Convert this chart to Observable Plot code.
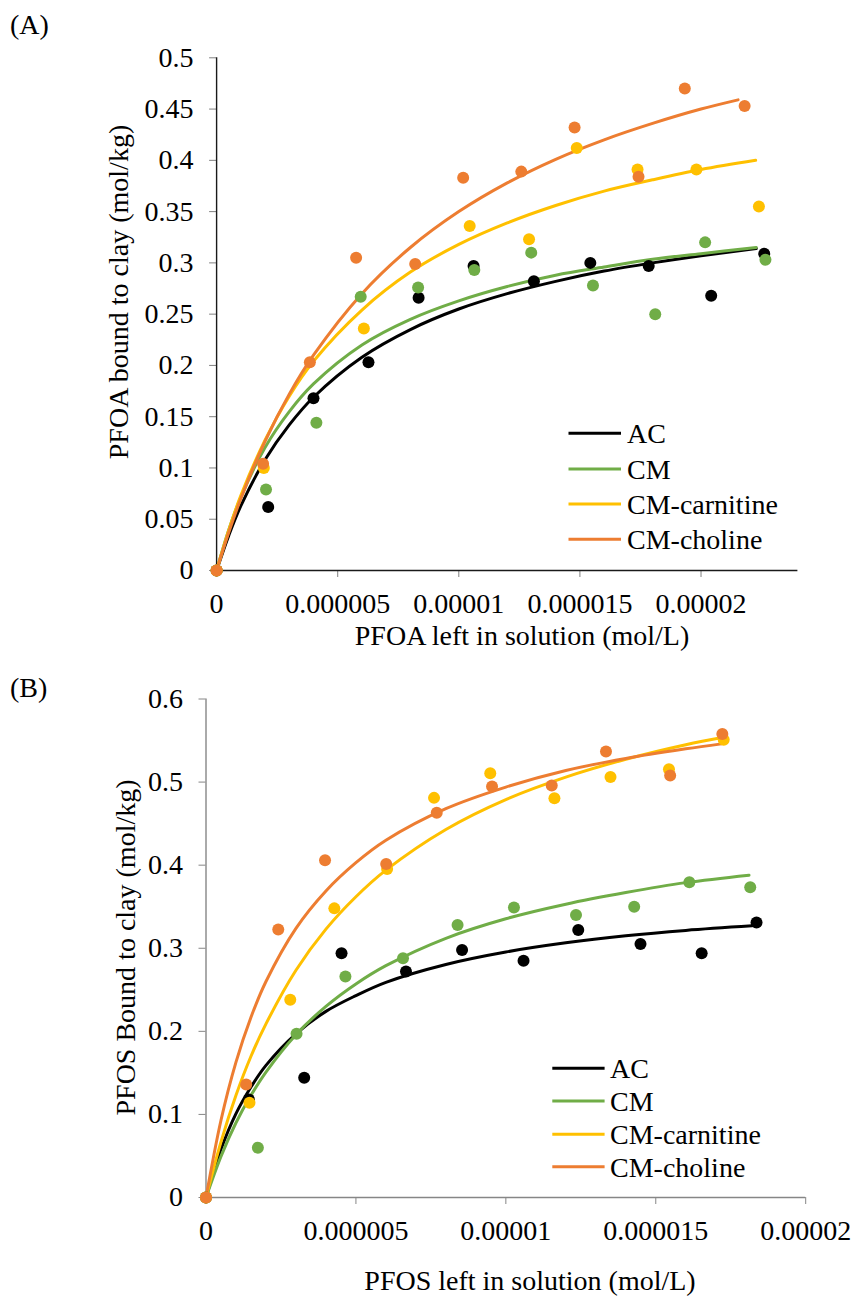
<!DOCTYPE html>
<html><head><meta charset="utf-8">
<script src="https://cdn.jsdelivr.net/npm/d3@7"></script>
<script src="https://cdn.jsdelivr.net/npm/@observablehq/plot@0.6"></script>
<style>
html,body{margin:0;padding:0;background:#fff;}
#wrap{position:relative;width:851px;height:1296px;font-family:"Liberation Serif","Times New Roman",serif;}
#wrap svg{position:absolute;left:0;}
</style></head><body><div id="wrap"></div>
<script>
// ---------- series ----------
const seriesNames = ["AC", "CM", "CM-carnitine", "CM-choline"];
const seriesColors = ["#000000", "#70AD47", "#FFC000", "#ED7D31"];

// ---------- Panel A (PFOA) ----------
const aTicksX = [0, 0.5e-5, 1e-5, 1.5e-5, 2e-5];
const aTickLabelsX = ["0", "0.000005", "0.00001", "0.000015", "0.00002"];
const aTicksY = [0, 0.05, 0.1, 0.15, 0.2, 0.25, 0.3, 0.35, 0.4, 0.45, 0.5];
const aTickLabelsY = ["0", "0.05", "0.1", "0.15", "0.2", "0.25", "0.3", "0.35", "0.4", "0.45", "0.5"];

const aAcX = [0, 0.213e-5, 0.400e-5, 0.627e-5, 0.834e-5, 1.061e-5, 1.310e-5, 1.543e-5, 1.784e-5, 2.042e-5, 2.261e-5];
const aAcY = [0, 0.062, 0.168, 0.203, 0.266, 0.297, 0.282, 0.300, 0.297, 0.268, 0.309];
const aCmX = [0, 0.204e-5, 0.412e-5, 0.595e-5, 0.832e-5, 1.064e-5, 1.299e-5, 1.554e-5, 1.811e-5, 2.017e-5, 2.266e-5];
const aCmY = [0, 0.079, 0.144, 0.267, 0.276, 0.293, 0.310, 0.278, 0.250, 0.320, 0.303];
const aCarX = [0, 0.195e-5, 0.608e-5, 1.045e-5, 1.290e-5, 1.487e-5, 1.738e-5, 1.981e-5, 2.239e-5];
const aCarY = [0, 0.100, 0.236, 0.336, 0.323, 0.412, 0.391, 0.391, 0.355];
const aChoX = [0, 0.192e-5, 0.385e-5, 0.576e-5, 0.820e-5, 1.018e-5, 1.258e-5, 1.478e-5, 1.742e-5, 1.933e-5, 2.180e-5];
const aChoY = [0, 0.104, 0.203, 0.305, 0.299, 0.383, 0.389, 0.432, 0.384, 0.470, 0.453];

// fitted curves
const aAcFitX = [0, 0.05e-5, 0.1e-5, 0.2e-5, 0.3e-5, 0.4e-5, 0.6e-5, 0.8e-5, 1.0e-5, 1.2e-5, 1.4e-5, 1.6e-5, 1.8e-5, 2.0e-5, 2.228e-5];
const aAcFitY = [0, 0.034, 0.063, 0.108, 0.142, 0.169, 0.208, 0.235, 0.255, 0.270, 0.282, 0.292, 0.300, 0.307, 0.314];
const aCmFitX = [0, 0.05e-5, 0.1e-5, 0.2e-5, 0.3e-5, 0.4e-5, 0.6e-5, 0.8e-5, 1.0e-5, 1.2e-5, 1.4e-5, 1.6e-5, 1.8e-5, 2.0e-5, 2.228e-5];
const aCmFitY = [0, 0.0395, 0.0714, 0.120, 0.155, 0.182, 0.220, 0.245, 0.263, 0.277, 0.288, 0.296, 0.3035, 0.309, 0.315];
const aCarFitX = [0, 0.05e-5, 0.1e-5, 0.2e-5, 0.3e-5, 0.4e-5, 0.6e-5, 0.8e-5, 1.0e-5, 1.2e-5, 1.4e-5, 1.6e-5, 1.8e-5, 2.0e-5, 2.2255e-5];
const aCarFitY = [0, 0.039, 0.073, 0.127, 0.170, 0.204, 0.254, 0.291, 0.318, 0.339, 0.356, 0.370, 0.381, 0.391, 0.400];
const aChoFitX = [0, 0.05e-5, 0.1e-5, 0.2e-5, 0.3e-5, 0.4e-5, 0.6e-5, 0.8e-5, 1.0e-5, 1.2e-5, 1.4e-5, 1.6e-5, 1.8e-5, 2.0e-5, 2.153e-5];
const aChoFitY = [0, 0.037, 0.070, 0.126, 0.172, 0.210, 0.270, 0.315, 0.350, 0.378, 0.401, 0.420, 0.436, 0.450, 0.459];

// ---------- Panel B (PFOS) ----------
const bTicksX = [0, 0.5e-5, 1e-5, 1.5e-5, 2e-5];
const bTickLabelsX = ["0", "0.000005", "0.00001", "0.000015", "0.00002"];
const bTicksY = [0, 0.1, 0.2, 0.3, 0.4, 0.5, 0.6];
const bTickLabelsY = ["0", "0.1", "0.2", "0.3", "0.4", "0.5", "0.6"];

const bAcX = [0, 0.143e-5, 0.3275e-5, 0.452e-5, 0.667e-5, 0.854e-5, 1.059e-5, 1.2415e-5, 1.449e-5, 1.653e-5, 1.836e-5];
const bAcY = [0, 0.118, 0.144, 0.294, 0.272, 0.298, 0.285, 0.322, 0.305, 0.294, 0.331];
const bCmX = [0, 0.173e-5, 0.302e-5, 0.465e-5, 0.657e-5, 0.839e-5, 1.027e-5, 1.234e-5, 1.428e-5, 1.612e-5, 1.815e-5];
const bCmY = [0, 0.060, 0.197, 0.266, 0.288, 0.328, 0.349, 0.340, 0.350, 0.3795, 0.3735];
const bCarX = [0, 0.145e-5, 0.281e-5, 0.428e-5, 0.604e-5, 0.7605e-5, 0.948e-5, 1.162e-5, 1.349e-5, 1.544e-5, 1.7265e-5];
const bCarY = [0, 0.114, 0.238, 0.348, 0.3955, 0.481, 0.5105, 0.4805, 0.506, 0.5155, 0.551];
const bChoX = [0, 0.134e-5, 0.241e-5, 0.397e-5, 0.601e-5, 0.7695e-5, 0.954e-5, 1.153e-5, 1.334e-5, 1.548e-5, 1.722e-5];
const bChoY = [0, 0.136, 0.3225, 0.406, 0.4015, 0.463, 0.4946, 0.4958, 0.5367, 0.508, 0.558];

const bAcFitX = [0, 0.05e-5, 0.1e-5, 0.15e-5, 0.2e-5, 0.3e-5, 0.4e-5, 0.5e-5, 0.6e-5, 0.8e-5, 1.0e-5, 1.2e-5, 1.4e-5, 1.6e-5, 1.821e-5];
const bAcFitY = [0, 0.058, 0.101, 0.133, 0.159, 0.197, 0.224, 0.243, 0.259, 0.2805, 0.2955, 0.3065, 0.315, 0.3215, 0.327];
const bCmFitX = [0, 0.05e-5, 0.1e-5, 0.15e-5, 0.2e-5, 0.3e-5, 0.4e-5, 0.5e-5, 0.6e-5, 0.8e-5, 1.0e-5, 1.2e-5, 1.4e-5, 1.6e-5, 1.811e-5];
const bCmFitY = [0, 0.0495, 0.090, 0.123, 0.151, 0.196, 0.230, 0.257, 0.279, 0.312, 0.3355, 0.353, 0.367, 0.379, 0.388];
const bCarFitX = [0, 0.05e-5, 0.1e-5, 0.15e-5, 0.2e-5, 0.3e-5, 0.4e-5, 0.5e-5, 0.6e-5, 0.8e-5, 1.0e-5, 1.2e-5, 1.4e-5, 1.6e-5, 1.7265e-5];
const bCarFitY = [0, 0.067, 0.123, 0.170, 0.209, 0.2735, 0.323, 0.362, 0.394, 0.443, 0.479, 0.506, 0.5275, 0.545, 0.554];
const bChoFitX = [0, 0.05e-5, 0.1e-5, 0.15e-5, 0.2e-5, 0.3e-5, 0.4e-5, 0.5e-5, 0.6e-5, 0.8e-5, 1.0e-5, 1.2e-5, 1.4e-5, 1.6e-5, 1.719e-5];
const bChoFitY = [0, 0.093, 0.163, 0.217, 0.260, 0.324, 0.369, 0.403, 0.430, 0.468, 0.494, 0.514, 0.5285, 0.540, 0.546];

// ---------- helpers ----------
const zip = (xs, ys) => xs.map((x, i) => ({x, y: ys[i]}));
const FONT = '"Liberation Serif", "Times New Roman", serif';

function panel(cfg) {
  const marks = [
    Plot.axisX(cfg.xTicks, {tickSize: 7, tickPadding: 16, stroke: cfg.tickColor, fill: "#000",
      tickFormat: d => cfg.xLabels[cfg.xTicks.indexOf(d)], label: null}),
    Plot.axisY(cfg.yTicks, {tickSize: 7, tickPadding: 16, stroke: cfg.tickColor, fill: "#000",
      tickFormat: d => cfg.yLabels[cfg.yTicks.indexOf(d)], label: null}),
    Plot.ruleY([0], {stroke: cfg.axisColor, strokeWidth: 1.4}),
    Plot.ruleX([0], {stroke: cfg.axisColor, strokeWidth: 1.4})
  ];
  cfg.fits.forEach((f, i) => marks.push(
    Plot.line(zip(f[0], f[1]), {x: "x", y: "y", stroke: seriesColors[i], strokeWidth: 3, curve: "catmull-rom"})));
  cfg.pts.forEach((p, i) => marks.push(
    Plot.dot(zip(p[0], p[1]), {x: "x", y: "y", r: 6, fill: seriesColors[i], stroke: "none"})));
  const svg = Plot.plot({
    width: 851, height: cfg.height,
    marginLeft: cfg.ml, marginRight: cfg.mr, marginTop: cfg.mt, marginBottom: cfg.mb,
    style: {fontFamily: FONT, fontSize: "28px", color: "#000", background: "transparent", overflow: "visible"},
    x: {domain: cfg.xDomain},
    y: {domain: cfg.yDomain},
    marks
  });
  svg.style.top = cfg.top + "px";
  return svg;
}

const wrap = document.getElementById("wrap");

wrap.appendChild(panel({
  top: 0, height: 660, ml: 216.1, mr: 53.6, mt: 57.3, mb: 90,
  xDomain: [0, 2.4e-5], yDomain: [0, 0.5],
  xTicks: aTicksX, xLabels: aTickLabelsX, yTicks: aTicksY, yLabels: aTickLabelsY,
  axisColor: "#1a1a1a", tickColor: "#808080",
  fits: [[aAcFitX, aAcFitY], [aCmFitX, aCmFitY], [aCarFitX, aCarFitY], [aChoFitX, aChoFitY]],
  pts: [[aAcX, aAcY], [aCmX, aCmY], [aCarX, aCarY], [aChoX, aChoY]]
}));

wrap.appendChild(panel({
  top: 660, height: 636, ml: 205.5, mr: 45.8, mt: 38.5, mb: 99,
  xDomain: [0, 2e-5], yDomain: [0, 0.6],
  xTicks: bTicksX, xLabels: bTickLabelsX, yTicks: bTicksY, yLabels: bTickLabelsY,
  axisColor: "#868686", tickColor: "#868686",
  fits: [[bAcFitX, bAcFitY], [bCmFitX, bCmFitY], [bCarFitX, bCarFitY], [bChoFitX, bChoFitY]],
  pts: [[bAcX, bAcY], [bCmX, bCmY], [bCarX, bCarY], [bChoX, bChoY]]
}));

// ---------- overlay: panel letters, axis titles, legends ----------
const ov = d3.create("svg").attr("width", 851).attr("height", 1296)
  .style("top", "0px").style("pointer-events", "none")
  .attr("font-family", FONT).attr("font-size", 28).attr("fill", "#000");

ov.append("text").attr("x", 10).attr("y", 34).text("(A)");
ov.append("text").attr("x", 10).attr("y", 697).text("(B)");

ov.append("text").attr("transform", "translate(128,292) rotate(-90)").attr("text-anchor", "middle")
  .text("PFOA bound to clay (mol/kg)");
ov.append("text").attr("x", 522).attr("y", 645).attr("text-anchor", "middle")
  .text("PFOA left in solution (mol/L)");
ov.append("text").attr("transform", "translate(135,947.5) rotate(-90)").attr("text-anchor", "middle")
  .text("PFOS Bound to clay (mol/kg)");
ov.append("text").attr("x", 530).attr("y", 1290).attr("text-anchor", "middle")
  .text("PFOS left in solution (mol/L)");

function legend(x0, x1, tx, ys) {
  seriesNames.forEach((name, i) => {
    ov.append("line").attr("x1", x0).attr("x2", x1).attr("y1", ys[i]).attr("y2", ys[i])
      .attr("stroke", seriesColors[i]).attr("stroke-width", 3);
    ov.append("text").attr("x", tx).attr("y", ys[i]).attr("dy", "0.35em").text(name);
  });
}
legend(568.5, 621, 627, [433.3, 469, 504, 539.3]);
legend(552.3, 604.6, 610, [1068.3, 1101, 1134.3, 1166.7]);

wrap.appendChild(ov.node());
</script>
</body></html>
